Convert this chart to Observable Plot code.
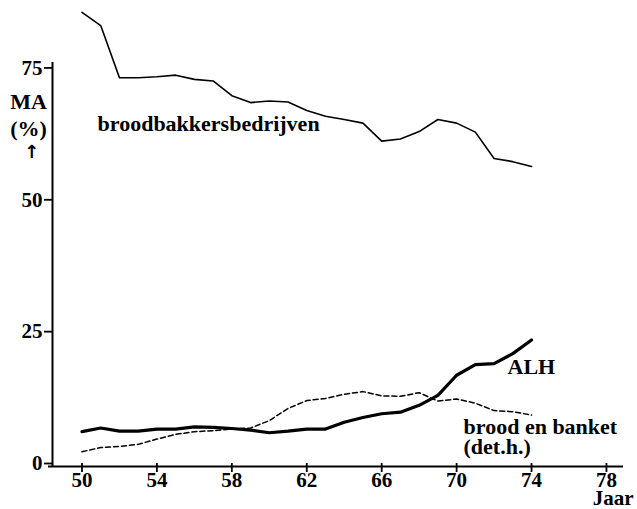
<!DOCTYPE html>
<html><head><meta charset="utf-8">
<script src="https://cdn.jsdelivr.net/npm/d3@7"></script>
<script src="https://cdn.jsdelivr.net/npm/@observablehq/plot@0.6"></script>
<style>
body{margin:0;background:#fff}
#chart svg text{font-weight:bold}
</style>
</head><body><div id="chart"></div>
<script>
const years = [50,51,52,53,54,55,56,57,58,59,60,61,62,63,64,65,66,67,68,69,70,71,72,73,74];
const broodbakkers = [86.1,83.6,73.7,73.7,73.9,74.2,73.4,73.1,70.3,69.0,69.3,69.1,67.5,66.4,65.8,65.1,61.7,62.1,63.5,65.8,65.1,63.4,58.4,57.8,56.9];
const alh = [6.6,7.3,6.7,6.7,7.1,7.1,7.5,7.4,7.2,6.9,6.4,6.7,7.1,7.1,8.4,9.3,10.0,10.3,11.6,13.5,17.3,19.3,19.5,21.4,24.0];
const broodBanket = [2.8,3.6,3.8,4.2,5.2,6.1,6.6,6.8,7.1,7.3,8.7,11.0,12.5,12.9,13.7,14.2,13.4,13.3,14.0,12.4,12.8,12.0,10.6,10.4,9.75];
const xTicks = [50,54,58,62,66,70,74,78];
const yTicks = [0,25,50,75];
const xDomain = [48.425, 78.91];
const yDomain = [0, 76.6];
const seriesNames = ["broodbakkersbedrijven","ALH","brood en banket","(det.h.)"];
const labelYears = [50.83, 72.72, 70.37, 70.37];
const labelValues = [63.7, 17.6, 6.25, 2.46];

const rows = (vals, s) => years.map((y, i) => ({year: y, value: vals[i], series: s}));
const labels = seriesNames.map((t, i) => ({text: t, x: labelYears[i], y: labelValues[i]}));

const chart = Plot.plot({
  width: 637, height: 509,
  marginTop: 62, marginBottom: 43, marginLeft: 52, marginRight: 14,
  style: {fontFamily: "'Liberation Serif', 'Times New Roman', serif", fontSize: "21px", background: "white", color: "black"},
  x: {domain: xDomain},
  y: {domain: yDomain},
  marks: [
    Plot.ruleX([xDomain[0]], {strokeWidth: 2}),
    Plot.ruleY([0], {strokeWidth: 2, insetLeft: -4}),
    Plot.axisY(yTicks, {tickSize: 8, tickPadding: 2, label: null, strokeWidth: 1.8, dy: -3, fontSize: 21}),
    Plot.axisX(xTicks, {tickSize: 9, dy: -3, tickPadding: 0, label: null, strokeWidth: 1.8, fontSize: 21}),
    Plot.line(rows(broodBanket, "b"), {x: "year", y: "value", strokeWidth: 1.5, strokeDasharray: "5,3"}),
    Plot.line(rows(broodbakkers, "a"), {x: "year", y: "value", strokeWidth: 1.6}),
    Plot.line(rows(alh, "c"), {x: "year", y: "value", strokeWidth: 3.2}),
    Plot.text(labels, {x: "x", y: "y", text: "text", textAnchor: "start", lineAnchor: "bottom", fontSize: 22}),
    Plot.text(["MA\n(%)"], {frameAnchor: "top-left", dx: -24, dy: 28, textAnchor: "middle", lineAnchor: "top", fontSize: 22, lineHeight: 1.2}),
    Plot.text(["↑"], {frameAnchor: "top-left", dx: -21, dy: 95, textAnchor: "middle", lineAnchor: "bottom", fontSize: 18, fontFamily: "'DejaVu Sans'"}),
    Plot.text(["Jaar"], {frameAnchor: "bottom-right", dx: 10, dy: 38, textAnchor: "end", lineAnchor: "bottom", fontSize: 21})
  ]
});
document.getElementById("chart").appendChild(chart);
</script>
</body></html>
